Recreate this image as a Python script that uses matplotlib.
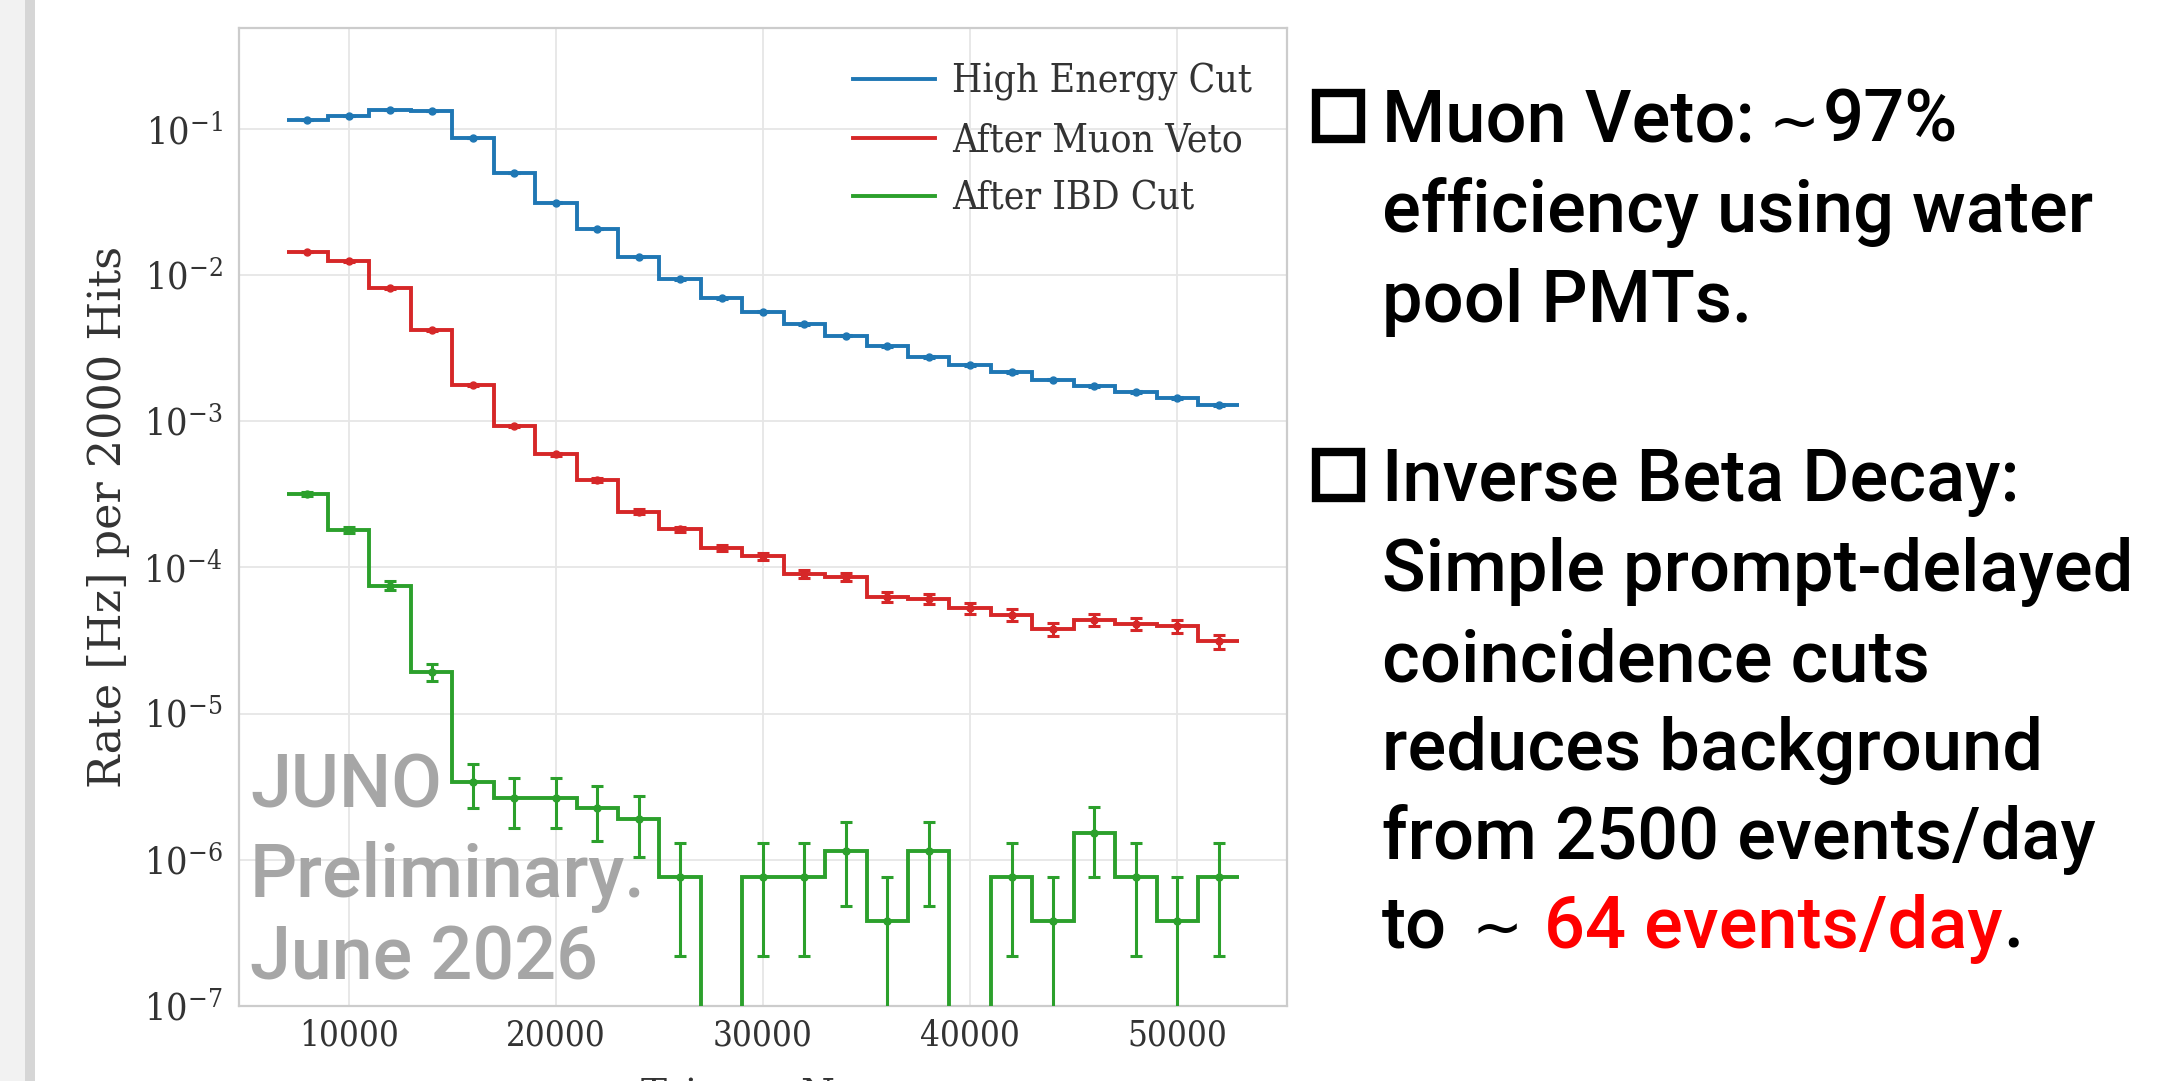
import numpy as np
import matplotlib.pyplot as plt
from matplotlib.patches import Rectangle
from matplotlib.ticker import FixedLocator, NullLocator, LogFormatterMathtext

# bins of 2000 hits
bin_centers = [8000, 10000, 12000, 14000, 16000, 18000, 20000, 22000, 24000, 26000, 28000, 30000,
               32000, 34000, 36000, 38000, 40000, 42000, 44000, 46000, 48000, 50000, 52000]
bin_width = 2000

high_energy = [0.115, 0.123, 0.134, 0.132, 0.0863, 0.0499, 0.0313, 0.0207, 0.0133, 0.00934, 0.00695, 0.0056,
               0.00461, 0.00385, 0.00326, 0.00275, 0.00242, 0.00217, 0.00193, 0.00175, 0.00158, 0.00144, 0.00129]
high_energy_err = [2.1e-4, 2.2e-4, 2.3e-4, 2.2e-4, 1.8e-4, 1.4e-4, 1.1e-4, 8.9e-5, 7.1e-5, 6.0e-5, 5.1e-5, 4.6e-5,
                   4.2e-5, 3.8e-5, 3.5e-5, 3.2e-5, 3.0e-5, 2.9e-5, 2.7e-5, 2.6e-5, 2.5e-5, 2.3e-5, 2.2e-5]

muon_veto = [0.0144, 0.0124, 0.00815, 0.00419, 0.00176, 0.00093, 0.000594, 0.000398, 0.000241, 0.000182, 0.000136,
             0.000119, 9.0e-5, 8.6e-5, 6.3e-5, 6.1e-5, 5.25e-5, 4.74e-5, 3.8e-5, 4.4e-5, 4.12e-5, 3.97e-5, 3.12e-5]
muon_veto_err = [7.4e-5, 6.9e-5, 5.6e-5, 4.0e-5, 2.6e-5, 1.9e-5, 1.5e-5, 1.2e-5, 9.6e-6, 8.3e-6, 7.2e-6,
                 6.7e-6, 5.8e-6, 5.7e-6, 4.9e-6, 4.8e-6, 4.5e-6, 4.2e-6, 3.8e-6, 4.1e-6, 4.0e-6, 3.9e-6, 3.4e-6]

ibd = [3.18e-4, 1.8e-4, 7.5e-5, 1.93e-5, 3.4e-6, 2.65e-6, 2.65e-6, 2.27e-6, 1.9e-6, 7.6e-7, 0.0, 7.6e-7,
       7.6e-7, 1.14e-6, 3.8e-7, 1.14e-6, 0.0, 7.6e-7, 3.8e-7, 1.52e-6, 7.6e-7, 3.8e-7, 7.6e-7]
ibd_err = [1.1e-5, 8.3e-6, 5.3e-6, 2.7e-6, 1.14e-6, 1.0e-6, 1.0e-6, 9.3e-7, 8.5e-7, 5.4e-7, 0.0, 5.4e-7,
           5.4e-7, 6.6e-7, 3.8e-7, 6.6e-7, 0.0, 5.4e-7, 3.8e-7, 7.6e-7, 5.4e-7, 3.8e-7, 5.4e-7]

series = [("High Energy Cut", high_energy, high_energy_err, "#1f77b4"),
          ("After Muon Veto", muon_veto, muon_veto_err, "#d62728"),
          ("After IBD Cut", ibd, ibd_err, "#2ca02c")]

x_ticks = [10000, 20000, 30000, 40000, 50000]
y_ticks = [1e-7, 1e-6, 1e-5, 1e-4, 1e-3, 1e-2, 1e-1]

W, H = 2157, 1081
plt.rcParams["mathtext.fontset"] = "dejavuserif"
fig = plt.figure(figsize=(W / 100, H / 100), dpi=100)


def px(x, y):
    return x / W, 1 - y / H


# slide border on the left
fig.add_artist(Rectangle((0, 0), 25 / W, 1, transform=fig.transFigure, color="#f2f2f2", lw=0))
fig.add_artist(Rectangle((25 / W, 0), 10 / W, 1, transform=fig.transFigure, color="#d6d6d6", lw=0))

ax = fig.add_axes([239 / W, 1 - 1006 / H, (1287 - 239) / W, (1006 - 28) / H])
ax.set_yscale("log")

centers = np.array(bin_centers, dtype=float)
edges = np.append(centers - bin_width / 2, centers[-1] + bin_width / 2)
for name, vals, errs, col in series:
    vals = np.array(vals)
    errs = np.array(errs)
    ax.stairs(vals, edges, baseline=None, color=col, lw=2.8, label=name, zorder=3)
    yv = np.where(vals > 0, vals, np.nan)
    ax.errorbar(centers, yv, yerr=errs, fmt="o", ms=5, color=col, elinewidth=2.2,
                capsize=4, capthick=2.2, zorder=4)

ax.set_xlim(4700, 55300)
ax.set_ylim(1e-7, 0.49)
ax.xaxis.set_major_locator(FixedLocator(x_ticks))
ax.yaxis.set_major_locator(FixedLocator(y_ticks))
ax.yaxis.set_major_formatter(LogFormatterMathtext())
ax.yaxis.set_minor_locator(NullLocator())
ax.grid(True, color="#e6e6e6", lw=1.3)
ax.set_axisbelow(True)
for s in ax.spines.values():
    s.set_color("#cccccc")
    s.set_linewidth(1.6)

serif = "DejaVu Serif"
ax.tick_params(length=0, labelcolor="#333333")
ax.tick_params(axis="x", pad=9, labelsize=25)
ax.tick_params(axis="y", pad=12, labelsize=27)
for lab in ax.get_xticklabels() + ax.get_yticklabels():
    lab.set_family(serif)
    lab.set_fontstretch("condensed")

ax.set_ylabel("Rate [Hz] per 2000 Hits", family=serif, fontsize=32, color="#333333", labelpad=10)
ax.set_xlabel(r"Trigger N$_{\rm hits}$", family=serif, fontsize=28, color="#333333", labelpad=16)

leg = ax.legend(loc="upper right", frameon=False, handlelength=2.1, handletextpad=0.45,
                labelspacing=0.55, borderaxespad=0.5,
                prop={"family": serif, "size": 28, "stretch": "condensed"})
for t in leg.get_texts():
    t.set_color("#333333")

# text on the right
sans = ["Roboto", "DejaVu Sans"]
fs = 52
weight = "medium"
text_x = 1382
r = fig.canvas.get_renderer()


def pieces(x, base, parts, color="black"):
    # parts: (text, size, gap before in px, colour or None)
    for txt, size, gap, col in parts:
        t = fig.text((x + gap) / W, 1 - base / H, txt, family=sans, fontsize=size, va="baseline",
                     fontweight=weight, color=col or color)
        x = t.get_window_extent(r).x1
    return x


block1 = ["efficiency using water", "pool PMTs."]
block2 = ["Inverse Beta Decay:", "Simple prompt-delayed", "coincidence cuts",
          "reduces background", "from 2500 events/day"]
pieces(text_x, 142, [("Muon Veto:", fs, 0, None), ("\u223c", 44, 14, None), ("97%", fs, 3, None)])
for ln, b in zip(block1, [232, 322]):
    fig.text(*px(text_x, b), ln, family=sans, fontsize=fs, va="baseline", fontweight=weight)
for ln, b in zip(block2, [501, 591, 681, 770, 859]):
    fig.text(*px(text_x, b), ln, family=sans, fontsize=fs, va="baseline", fontweight=weight)
pieces(text_x, 948, [("to", fs, 0, None), ("\u223c", 44, 24, None),
                     ("64 events/day", fs, 22, "#ff0000"), (".", fs, 0, None)])

# square bullets
for b in (142, 501):
    fig.add_artist(Rectangle(px(1316, b - 3), 45 / W, 46 / H, transform=fig.transFigure,
                             fill=False, ec="black", lw=6))

# watermark
gray = "#a6a6a6"
for ln, b in zip(["JUNO", "Preliminary.", "June 2026"], [808, 897, 980]):
    fig.text(*px(250, b), ln, family=sans, fontsize=53, va="baseline", color=gray, fontweight=weight)

fig.savefig("out.png", dpi=100)
